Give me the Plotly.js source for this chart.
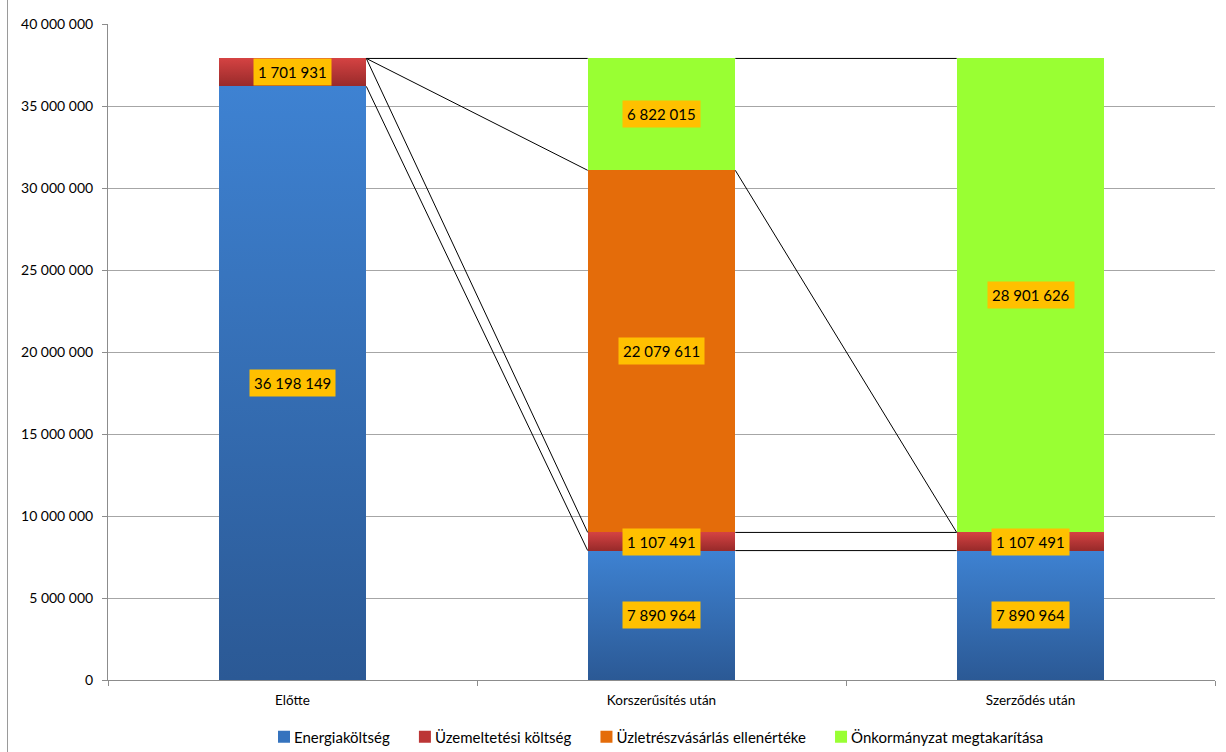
<!DOCTYPE html>
<html>
<head>
<meta charset="utf-8">
<script src="https://cdn.plot.ly/plotly-3.0.1.min.js"></script>
<style>
  html, body { margin: 0; padding: 0; background: #fff; }
  #wrap { position: relative; width: 1226px; height: 752px; overflow: hidden; }
  #chart { width: 1226px; height: 752px; }
  #frame { position: absolute; left: 7px; top: 0; width: 1px; height: 752px; background: #9a9a9a; }
</style>
</head>
<body>
<div id="wrap">
  <div id="chart"></div>
  <div id="frame"></div>
</div>
<script>
// ---- data ----
const categories = ["Előtte", "Korszerűsítés után", "Szerződés után"];
const seriesNames = ["Energiaköltség", "Üzemeltetési költség", "Üzletrészvásárlás ellenértéke", "Önkormányzat megtakarítása"];
const energia = [36198149, 7890964, 7890964];
const uzemeltetesi = [1701931, 1107491, 1107491];
const uzletresz = [0, 22079611, 0];
const onkormanyzat = [0, 6822015, 28901626];
const yTickVals = [0, 5000000, 10000000, 15000000, 20000000, 25000000, 30000000, 35000000, 40000000];

// ---- styles ----
const colors = ["#3573BE", "#BC3636", "#E46C0A", "#99FF33"];
const gradients = [
  ["#3E82D2", "#2B5995"],
  ["#D44242", "#982A2A"],
  null,
  null
];
const FONT = "Lato, 'Open Sans', sans-serif";
const barWidth = 0.4;

const allSeries = [energia, uzemeltetesi, uzletresz, onkormanyzat];
const xIdx = categories.map((_, i) => i);

const traces = allSeries.map((vals, s) => ({
  type: "bar",
  name: seriesNames[s],
  x: xIdx,
  y: vals,
  width: barWidth,
  marker: { color: colors[s], line: { width: 0 } },
  hoverinfo: "skip"
}));

// cumulative tops
const cum = allSeries.map((_, s) => xIdx.map(i => {
  let t = 0;
  for (let k = 0; k <= s; k++) t += allSeries[k][i];
  return t;
}));

// series lines between adjacent bars
const lx = [], ly = [];
for (let s = 0; s < allSeries.length; s++) {
  for (let i = 0; i < categories.length - 1; i++) {
    lx.push(i + barWidth / 2, i + 1 - barWidth / 2, null);
    ly.push(cum[s][i], cum[s][i + 1], null);
  }
}
traces.push({
  type: "scatter", mode: "lines", x: lx, y: ly,
  line: { color: "#000", width: 1 }, showlegend: false, hoverinfo: "skip", connectgaps: false
});

// data labels
function fmt(v) { return String(v).replace(/\B(?=(\d{3})+(?!\d))/g, " "); }
const annotations = [];
allSeries.forEach((vals, s) => {
  vals.forEach((v, i) => {
    if (!v) return;
    const base = cum[s][i] - v;
    annotations.push({
      x: i, y: base + v / 2, xref: "x", yref: "y",
      text: fmt(v), showarrow: false,
      bgcolor: "#FFC000", borderpad: 4,
      font: { family: FONT, size: 15, color: "#000" }
    });
  });
});

const layout = {
  width: 1226, height: 752,
  margin: { l: 108, r: 11, t: 24, b: 72 },
  paper_bgcolor: "#fff", plot_bgcolor: "#fff",
  barmode: "stack",
  separators: ", ",
  font: { family: FONT, size: 14, color: "#000" },
  showlegend: true,
  legend: {
    orientation: "h", x: 0.5, xanchor: "center",
    yref: "container", y: 0.02, yanchor: "middle",
    font: { family: FONT, size: 15, color: "#000" },
    itemwidth: 30, traceorder: "normal"
  },
  xaxis: {
    type: "linear", range: [-0.5, 2.5],
    tickvals: xIdx, ticktext: categories, ticks: "",
    showgrid: false, zeroline: false,
    showline: true, linecolor: "#8c8c8c", linewidth: 1,
    ticklabelstandoff: 8,
    tickfont: { family: FONT, size: 13.5, color: "#000" },
    minor: { tickvals: [-0.5, 0.5, 1.5, 2.5], ticks: "outside", ticklen: 5, tickcolor: "#8c8c8c", showgrid: false }
  },
  yaxis: {
    range: [0, 40000000], tickvals: yTickVals, tickformat: ",d",
    ticks: "outside", ticklen: 5, tickcolor: "#8c8c8c",
    showgrid: true, gridcolor: "#a6a6a6", gridwidth: 1,
    zeroline: false, showline: true, linecolor: "#8c8c8c", linewidth: 1,
    ticklabelstandoff: 6,
    tickfont: { family: FONT, size: 14, color: "#000" }
  },
  annotations: annotations
};

Plotly.newPlot("chart", traces, layout, { displayModeBar: false, staticPlot: true }).then(gd => {
  const svg = gd.querySelector("svg.main-svg");
  let defs = svg.querySelector("defs");
  if (!defs) { defs = document.createElementNS("http://www.w3.org/2000/svg", "defs"); svg.insertBefore(defs, svg.firstChild); }
  const NS = "http://www.w3.org/2000/svg";
  gradients.forEach((g, s) => {
    if (!g) return;
    const lg = document.createElementNS(NS, "linearGradient");
    lg.setAttribute("id", "grad" + s);
    lg.setAttribute("x1", "0"); lg.setAttribute("y1", "0");
    lg.setAttribute("x2", "0"); lg.setAttribute("y2", "1");
    const s1 = document.createElementNS(NS, "stop");
    s1.setAttribute("offset", "0"); s1.setAttribute("stop-color", g[0]);
    const s2 = document.createElementNS(NS, "stop");
    s2.setAttribute("offset", "1"); s2.setAttribute("stop-color", g[1]);
    lg.appendChild(s1); lg.appendChild(s2);
    defs.appendChild(lg);
  });
  const barTraces = gd.querySelectorAll("g.barlayer g.trace.bars");
  barTraces.forEach((t, s) => {
    if (!gradients[s]) return;
    t.querySelectorAll("g.point path").forEach(p => { p.style.fill = "url(#grad" + s + ")"; });
  });
  // tighten gap between legend swatch and its text (Excel style)
  gd.querySelectorAll("g.legend g.traces text.legendtext").forEach(t => {
    const x = parseFloat(t.getAttribute("x")) || 40;
    t.setAttribute("x", x - 10);
  });
});
</script>
</body>
</html>
